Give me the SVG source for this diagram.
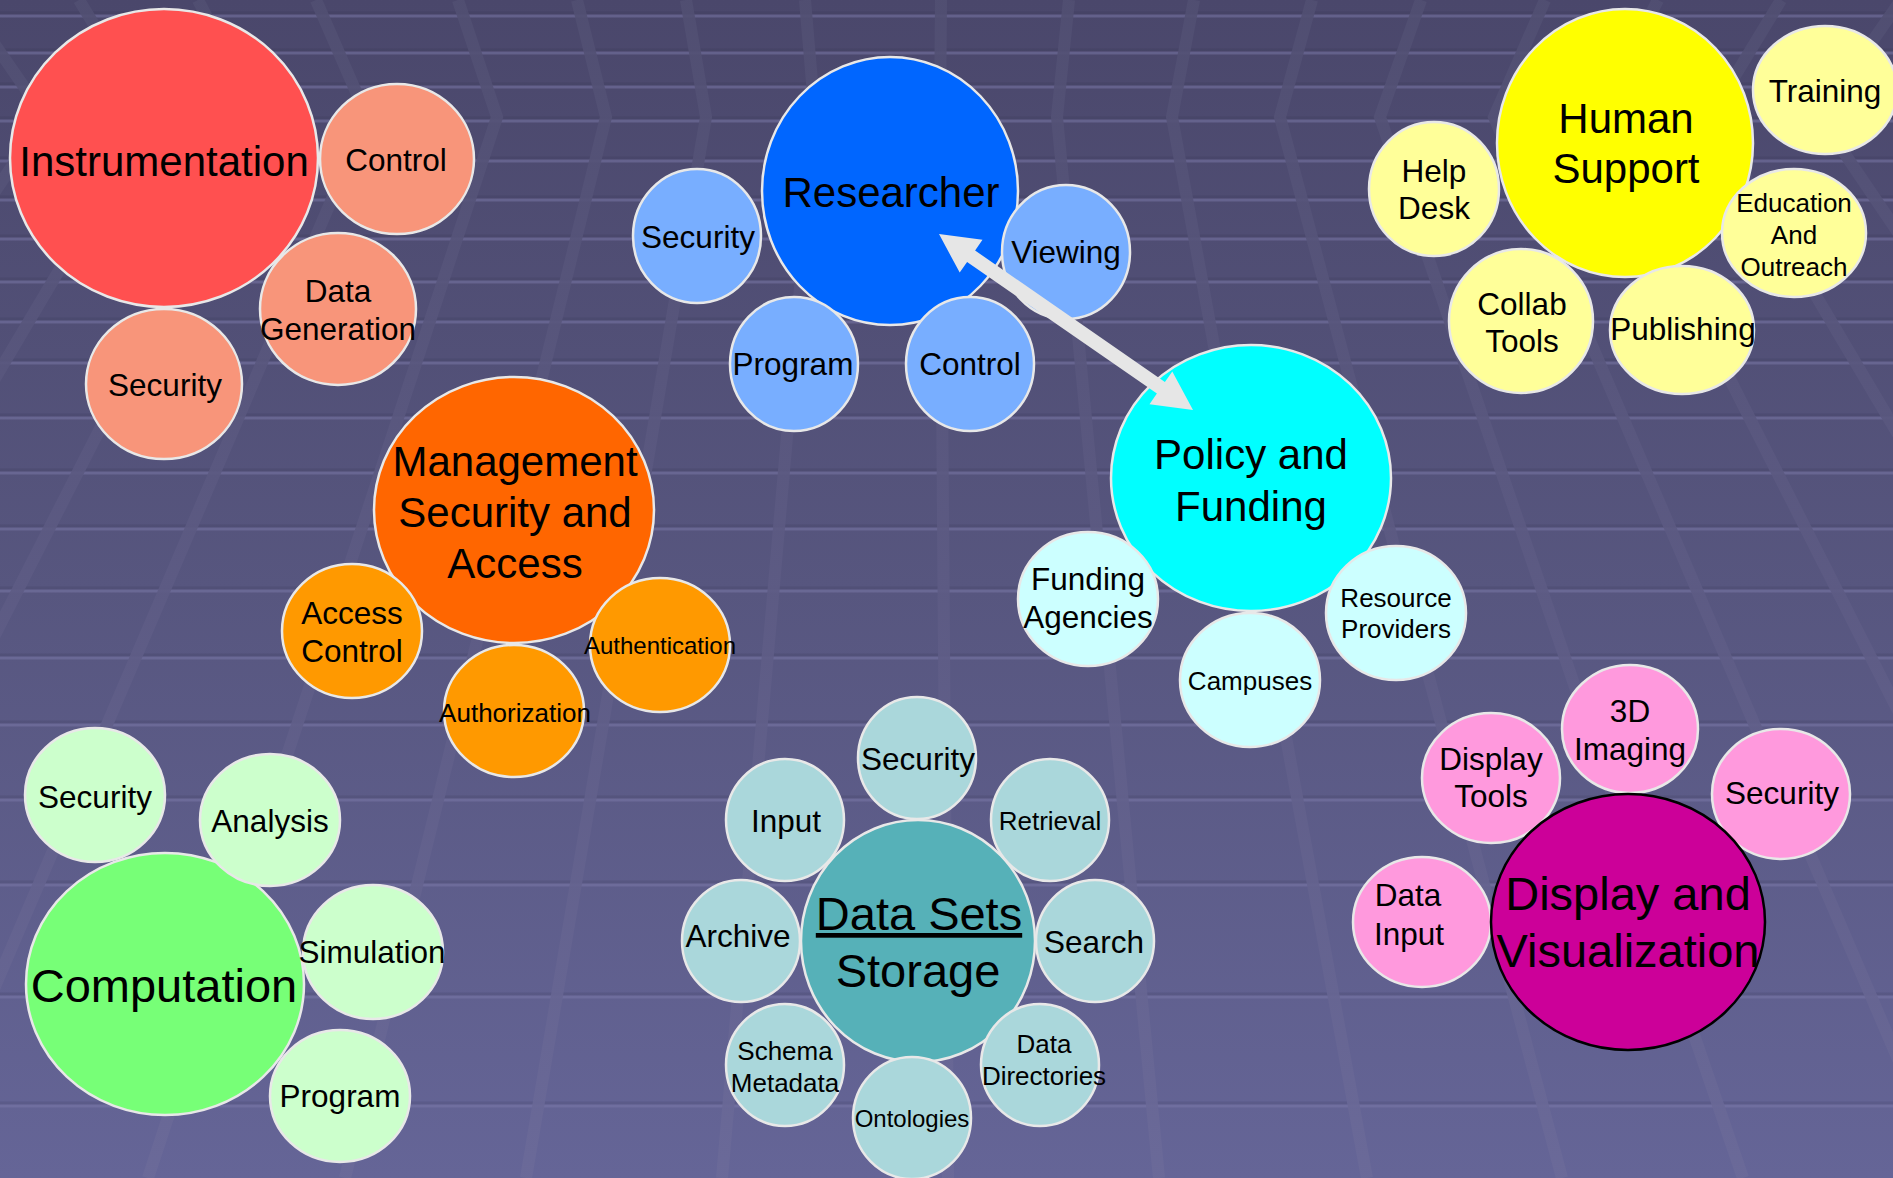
<svg xmlns="http://www.w3.org/2000/svg" width="1893" height="1178" viewBox="0 0 1893 1178">
<defs>
<linearGradient id="bg" x1="0" y1="0" x2="0" y2="1">
<stop offset="0" stop-color="#4a476b"/>
<stop offset="0.5" stop-color="#57567f"/>
<stop offset="1" stop-color="#656597"/>
</linearGradient>
<linearGradient id="bandg" gradientUnits="userSpaceOnUse" x1="0" y1="0" x2="0" y2="1178">
<stop offset="0" stop-color="#514f72"/>
<stop offset="0.5" stop-color="#5d5b84"/>
<stop offset="1" stop-color="#6b6a99"/>
</linearGradient>
</defs>
<style>
text { font-family: "Liberation Sans", Arial, sans-serif; fill: #000; text-anchor: middle; }
.c { stroke: #e8e8e8; stroke-width: 2.5; }
.k { stroke: #000; stroke-width: 2.5; }
.t47 { font-size: 47px; }
.t42 { font-size: 42px; }
.t31 { font-size: 31.5px; }
.t26 { font-size: 26px; }
.t24 { font-size: 24px; }
.band { fill: none; stroke: url(#bandg); stroke-opacity: 0.9; stroke-width: 12; }
.hl { stroke: #7b79aa; stroke-opacity: 0.5; stroke-width: 3; }
.hs { stroke: #2e2c4c; stroke-opacity: 0.15; stroke-width: 3; }
.ins { fill: #FF5050; } .insc { fill: #F8957A; }
.res { fill: #0066FF; } .resc { fill: #78AEFF; }
.hum { fill: #FFFF00; } .humc { fill: #FFFF99; }
.man { fill: #FF6600; } .manc { fill: #FF9900; }
.pol { fill: #00FFFF; } .polc { fill: #CCFFFF; }
.com { fill: #77FF77; } .comc { fill: #CCFFCC; }
.dat { fill: #56B1B8; } .datc { fill: #AAD7DB; }
.dis { fill: #CC0099; } .disc { fill: #FF99DD; }
.arrow { fill: #E6E6E6; }
</style>

<g id="background">
<rect x="0" y="0" width="1893" height="1178" fill="url(#bg)"/>
<g id="hlines">
<line class="hs" x1="0" y1="13" x2="1893" y2="13"/><line class="hl" x1="0" y1="16" x2="1893" y2="16"/>
<line class="hs" x1="0" y1="50" x2="1893" y2="50"/><line class="hl" x1="0" y1="53" x2="1893" y2="53"/>
<line class="hs" x1="0" y1="84" x2="1893" y2="84"/><line class="hl" x1="0" y1="87" x2="1893" y2="87"/>
<line class="hs" x1="0" y1="118" x2="1893" y2="118"/><line class="hl" x1="0" y1="121" x2="1893" y2="121"/>
<line class="hs" x1="0" y1="158" x2="1893" y2="158"/><line class="hl" x1="0" y1="161" x2="1893" y2="161"/>
<line class="hs" x1="0" y1="197" x2="1893" y2="197"/><line class="hl" x1="0" y1="200" x2="1893" y2="200"/>
<line class="hs" x1="0" y1="236" x2="1893" y2="236"/><line class="hl" x1="0" y1="239" x2="1893" y2="239"/>
<line class="hs" x1="0" y1="279" x2="1893" y2="279"/><line class="hl" x1="0" y1="282" x2="1893" y2="282"/>
<line class="hs" x1="0" y1="319" x2="1893" y2="319"/><line class="hl" x1="0" y1="322" x2="1893" y2="322"/>
<line class="hs" x1="0" y1="360" x2="1893" y2="360"/><line class="hl" x1="0" y1="363" x2="1893" y2="363"/>
<line class="hs" x1="0" y1="415" x2="1893" y2="415"/><line class="hl" x1="0" y1="418" x2="1893" y2="418"/>
<line class="hs" x1="0" y1="470" x2="1893" y2="470"/><line class="hl" x1="0" y1="473" x2="1893" y2="473"/>
<line class="hs" x1="0" y1="526" x2="1893" y2="526"/><line class="hl" x1="0" y1="529" x2="1893" y2="529"/>
<line class="hs" x1="0" y1="588" x2="1893" y2="588"/><line class="hl" x1="0" y1="591" x2="1893" y2="591"/>
<line class="hs" x1="0" y1="655" x2="1893" y2="655"/><line class="hl" x1="0" y1="658" x2="1893" y2="658"/>
<line class="hs" x1="0" y1="722" x2="1893" y2="722"/><line class="hl" x1="0" y1="725" x2="1893" y2="725"/>
<line class="hs" x1="0" y1="797" x2="1893" y2="797"/><line class="hl" x1="0" y1="800" x2="1893" y2="800"/>
<line class="hs" x1="0" y1="882" x2="1893" y2="882"/><line class="hl" x1="0" y1="885" x2="1893" y2="885"/>
<line class="hs" x1="0" y1="994" x2="1893" y2="994"/><line class="hl" x1="0" y1="997" x2="1893" y2="997"/>
<line class="hs" x1="0" y1="1103" x2="1893" y2="1103"/><line class="hl" x1="0" y1="1106" x2="1893" y2="1106"/>
</g>
<g id="bands">
<polyline class="band" points="-36,0 45,117 -668,1178"/>
<polyline class="band" points="79,0 150,117 -479,1178"/>
<polyline class="band" points="198,0 259,117 -282,1178"/>
<polyline class="band" points="316,0 367,117 -87,1178"/>
<polyline class="band" points="458,0 497,117 148,1178"/>
<polyline class="band" points="577,0 606,117 345,1178"/>
<polyline class="band" points="686,0 706,117 526,1178"/>
<polyline class="band" points="805,0 815,117 722,1178"/>
<polyline class="band" points="941,0 940,117 948,1178"/>
<polyline class="band" points="1069,0 1057,117 1159,1178"/>
<polyline class="band" points="1194,0 1172,117 1367,1178"/>
<polyline class="band" points="1312,0 1280,117 1562,1178"/>
<polyline class="band" points="1421,0 1380,117 1743,1178"/>
<polyline class="band" points="1545,0 1494,117 1949,1178"/>
<polyline class="band" points="1658,0 1597,117 2135,1178"/>
<polyline class="band" points="1781,0 1710,117 2339,1178"/>
<polyline class="band" points="1901,0 1820,117 2537,1178"/>
</g>
</g>

<g id="instrumentation">
<ellipse class="c ins" cx="164" cy="158" rx="154" ry="149"/>
<text class="t42" x="164" y="176">Instrumentation</text>
<g id="instrumentation-control"><ellipse class="c insc" cx="397" cy="159" rx="77" ry="75"/><text class="t31" x="396" y="171">Control</text></g>
<g id="instrumentation-datagen"><ellipse class="c insc" cx="338" cy="309" rx="78" ry="76"/><text class="t31" x="338" y="302">Data</text><text class="t31" x="338" y="340">Generation</text></g>
<g id="instrumentation-security"><ellipse class="c insc" cx="164" cy="384" rx="78" ry="75"/><text class="t31" x="165" y="396">Security</text></g>
</g>

<g id="researcher">
<ellipse class="c res" cx="890" cy="191" rx="128" ry="134"/>
<text class="t42" x="891" y="207">Researcher</text>
<g id="researcher-security"><ellipse class="c resc" cx="697" cy="236" rx="64" ry="67"/><text class="t31" x="698" y="248">Security</text></g>
<g id="researcher-viewing"><ellipse class="c resc" cx="1066" cy="252" rx="64" ry="67"/><text class="t31" x="1066" y="263">Viewing</text></g>
<g id="researcher-program"><ellipse class="c resc" cx="794" cy="364" rx="64" ry="67"/><text class="t31" x="793" y="375">Program</text></g>
<g id="researcher-control"><ellipse class="c resc" cx="970" cy="364" rx="64" ry="67"/><text class="t31" x="970" y="375">Control</text></g>
</g>

<g id="human-support">
<ellipse class="c hum" cx="1625" cy="143" rx="128" ry="134"/>
<text class="t42" x="1626" y="133">Human</text>
<text class="t42" x="1626" y="183">Support</text>
<g id="hs-helpdesk"><ellipse class="c humc" cx="1434" cy="189" rx="65" ry="67"/><text class="t31" x="1434" y="182">Help</text><text class="t31" x="1434" y="219">Desk</text></g>
<g id="hs-training"><ellipse class="c humc" cx="1825" cy="90" rx="72" ry="64"/><text class="t31" x="1825" y="102">Training</text></g>
<g id="hs-education"><ellipse class="c humc" cx="1794" cy="233" rx="72" ry="64"/><text class="t26" x="1794" y="212">Education</text><text class="t26" x="1794" y="244">And</text><text class="t26" x="1794" y="276">Outreach</text></g>
<g id="hs-collab"><ellipse class="c humc" cx="1521" cy="321" rx="72" ry="72"/><text class="t31" x="1522" y="315">Collab</text><text class="t31" x="1522" y="352">Tools</text></g>
<g id="hs-publishing"><ellipse class="c humc" cx="1682" cy="330" rx="72" ry="64"/><text class="t31" x="1683" y="340">Publishing</text></g>
</g>

<g id="management">
<ellipse class="c man" cx="514" cy="510" rx="140" ry="133"/>
<text class="t42" x="515" y="476">Management</text>
<text class="t42" x="515" y="527">Security and</text>
<text class="t42" x="515" y="578">Access</text>
<g id="mgmt-access"><ellipse class="c manc" cx="352" cy="631" rx="70" ry="67"/><text class="t31" x="352" y="624">Access</text><text class="t31" x="352" y="662">Control</text></g>
<g id="mgmt-authorization"><ellipse class="c manc" cx="514" cy="711" rx="70" ry="66"/><text class="t26" x="515" y="722">Authorization</text></g>
<g id="mgmt-authentication"><ellipse class="c manc" cx="660" cy="645" rx="70" ry="67"/><text class="t24" x="660" y="654">Authentication</text></g>
</g>

<g id="policy">
<ellipse class="c pol" cx="1251" cy="478" rx="140" ry="133"/>
<text class="t42" x="1251" y="469">Policy and</text>
<text class="t42" x="1251" y="521">Funding</text>
<g id="policy-funding"><ellipse class="c polc" cx="1088" cy="599" rx="70" ry="67"/><text class="t31" x="1088" y="590">Funding</text><text class="t31" x="1088" y="628">Agencies</text></g>
<g id="policy-campuses"><ellipse class="c polc" cx="1250" cy="680" rx="70" ry="67"/><text class="t26" x="1250" y="690">Campuses</text></g>
<g id="policy-resource"><ellipse class="c polc" cx="1396" cy="613" rx="70" ry="67"/><text class="t26" x="1396" y="607">Resource</text><text class="t26" x="1396" y="638">Providers</text></g>
</g>

<g id="computation">
<ellipse class="c com" cx="165" cy="984" rx="139" ry="131"/>
<text class="t47" x="164" y="1002">Computation</text>
<g id="comp-security"><ellipse class="c comc" cx="95" cy="795" rx="70" ry="67"/><text class="t31" x="95" y="808">Security</text></g>
<g id="comp-analysis"><ellipse class="c comc" cx="270" cy="820" rx="70" ry="66"/><text class="t31" x="270" y="832">Analysis</text></g>
<g id="comp-simulation"><ellipse class="c comc" cx="373" cy="952" rx="70" ry="67"/><text class="t31" x="372" y="963">Simulation</text></g>
<g id="comp-program"><ellipse class="c comc" cx="340" cy="1096" rx="70" ry="66"/><text class="t31" x="340" y="1107">Program</text></g>
</g>

<g id="datasets">
<ellipse class="c dat" cx="918" cy="941" rx="117" ry="121"/>
<text class="t47" x="919" y="930" text-decoration="underline">Data Sets</text>
<text class="t47" x="918" y="987">Storage</text>
<g id="ds-security"><ellipse class="c datc" cx="917" cy="758" rx="59" ry="61"/><text class="t31" x="918" y="770">Security</text></g>
<g id="ds-input"><ellipse class="c datc" cx="785" cy="820" rx="59" ry="61"/><text class="t31" x="786" y="832">Input</text></g>
<g id="ds-retrieval"><ellipse class="c datc" cx="1050" cy="820" rx="59" ry="61"/><text class="t26" x="1050" y="830">Retrieval</text></g>
<g id="ds-archive"><ellipse class="c datc" cx="741" cy="941" rx="59" ry="61"/><text class="t31" x="738" y="947">Archive</text></g>
<g id="ds-search"><ellipse class="c datc" cx="1095" cy="941" rx="59" ry="61"/><text class="t31" x="1094" y="953">Search</text></g>
<g id="ds-schema"><ellipse class="c datc" cx="785" cy="1065" rx="59" ry="61"/><text class="t26" x="785" y="1060">Schema</text><text class="t26" x="785" y="1092">Metadata</text></g>
<g id="ds-ontologies"><ellipse class="c datc" cx="912" cy="1118" rx="59" ry="61"/><text class="t24" x="912" y="1127">Ontologies</text></g>
<g id="ds-directories"><ellipse class="c datc" cx="1040" cy="1065" rx="59" ry="61"/><text class="t26" x="1044" y="1053">Data</text><text class="t26" x="1044" y="1085">Directories</text></g>
</g>

<g id="display">
<g id="disp-3d"><ellipse class="c disc" cx="1630" cy="729" rx="68" ry="64"/><text class="t31" x="1630" y="722">3D</text><text class="t31" x="1630" y="760">Imaging</text></g>
<g id="disp-tools"><ellipse class="c disc" cx="1491" cy="778" rx="69" ry="65"/><text class="t31" x="1491" y="770">Display</text><text class="t31" x="1491" y="807">Tools</text></g>
<g id="disp-security"><ellipse class="c disc" cx="1781" cy="794" rx="69" ry="65"/><text class="t31" x="1782" y="804">Security</text></g>
<g id="disp-input"><ellipse class="c disc" cx="1422" cy="922" rx="69" ry="65"/><text class="t31" x="1408" y="906">Data</text><text class="t31" x="1409" y="945">Input</text></g>
<ellipse class="k dis" cx="1628" cy="922" rx="137" ry="128"/>
<text class="t47" x="1628" y="910">Display and</text>
<text class="t47" x="1628" y="967">Visualization</text>
</g>

<g id="connectors">
<polygon class="arrow" points="939,234 982.5,239.8 975.1,250.5 1164.9,382.1 1172.3,371.4 1193,410 1149.5,404.2 1156.9,393.6 967.1,262 959.7,272.6"/>
</g>
</svg>
